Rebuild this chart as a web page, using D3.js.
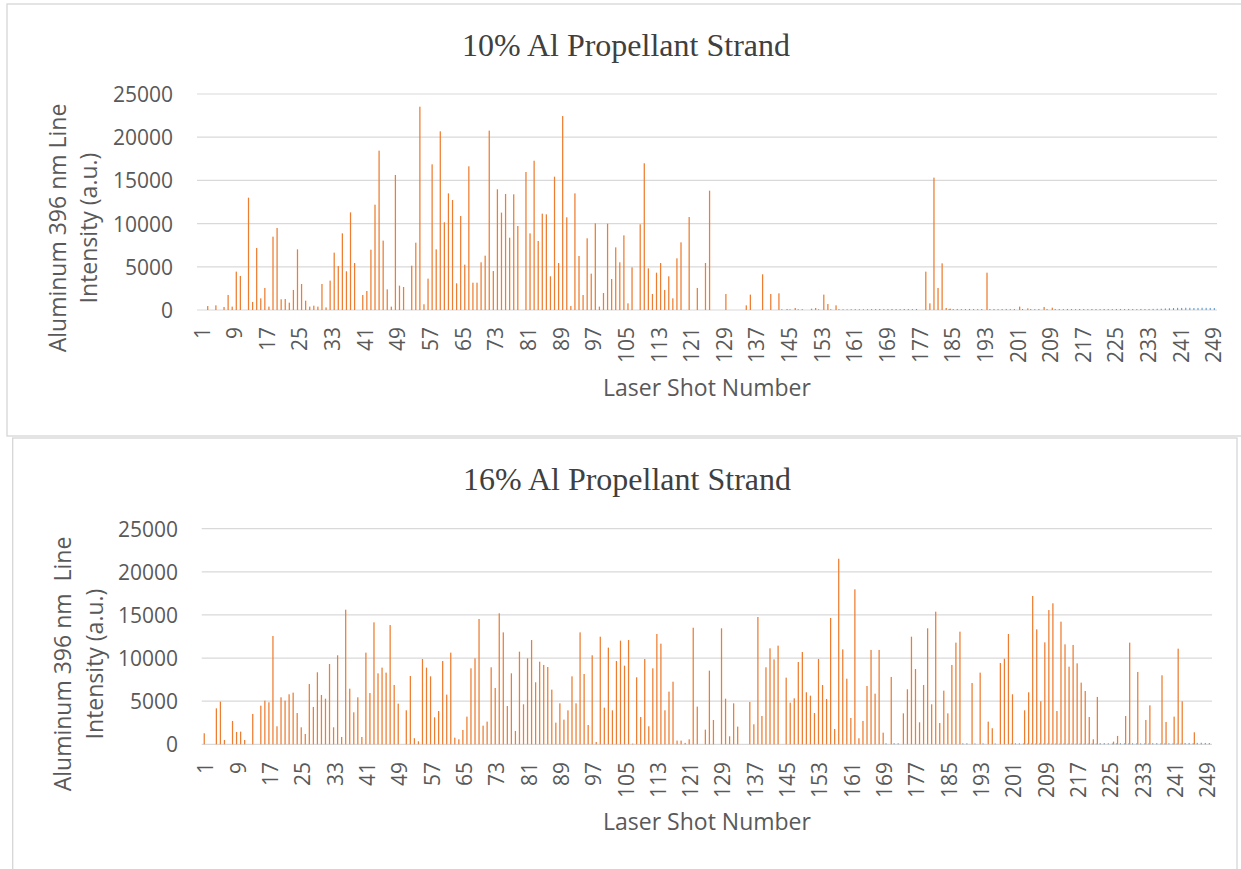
<!DOCTYPE html>
<html>
<head>
<meta charset="utf-8">
<script src="https://d3js.org/d3.v7.min.js"></script>
<style>
  html, body { margin: 0; padding: 0; background: #fff; }
  svg { display: block; }
</style>
</head>
<body>
<script>
// shot numbers 1..250, every 8th one is labelled
var shots = d3.range(1, 251);
var xTickLabels = shots.filter(function (d, i) { return i % 8 === 0; });
var yTicks = [0, 5000, 10000, 15000, 20000, 25000];

var titles = ["10% Al Propellant Strand", "16% Al Propellant Strand"];

// 10% Al strand, orange series (Al 396 nm line)
var al10 = [
  0, 0, 460, 0, 540, 0, 350, 1740, 390, 4440, 3940, 0, 13000, 930, 7180, 1350, 2550, 390, 8490, 9490, 1240, 1270, 850, 2320, 7020,
  3010, 1080, 390, 500, 390, 3010, 300, 3400, 6640, 5090, 8870, 4480, 11300, 5440, 0, 1740, 2200, 6980, 12190, 18440, 8030, 2390, 390, 15630, 2820,
  2660, 0, 5130, 7790, 23530, 660, 3630, 16860, 7020, 20680, 10150, 13500, 12730, 3090, 10880, 5250, 16630, 3160, 3160, 5520, 6290, 20760, 4510, 13970, 11270,
  13430, 8370, 13390, 9720, 0, 15970, 8870, 17280, 7990, 11150, 11070, 3900, 15430, 5440, 22450, 10730, 460, 13500, 6250, 1740, 8300, 4210, 10030, 390, 1970,
  9990, 3590, 7250, 5520, 8640, 770, 4940, 0, 9920, 16980, 4820, 1850, 4320, 5440, 2320, 3900, 1350, 5980, 7830, 0, 10760, 0, 2550, 0, 5440,
  13810, 0, 0, 0, 1850, 0, 0, 0, 0, 540, 1780, 0, 0, 4130, 0, 1850, 0, 1930, 0, 120, 0, 230, 0, 0, 0,
  150, 230, 0, 1780, 690, 0, 540, 0, 0, 0, 0, 0, 0, 0, 0, 0, 0, 0, 0, 0, 0, 0, 0, 0, 0,
  0, 0, 0, 4440, 770, 15320, 2550, 5400, 230, 150, 0, 0, 0, 0, 0, 0, 0, 0, 4320, 0, 0, 0, 0, 0, 0,
  0, 390, 0, 190, 0, 0, 0, 350, 0, 270, 0, 0, 0, 0, 0, 0, 0, 0, 0, 0, 0, 0, 0, 0, 0,
  0, 0, 0, 0, 0, 0, 0, 0, 0, 0, 0, 0, 0, 0, 0, 0, 0, 0, 0, 0, 0, 0, 0, 0, 0
];
// 10% Al strand, blue series (tiny values along the baseline)
var base10 = [
  0, 0, 0, 0, 0, 0, 0, 0, 0, 0, 0, 0, 0, 0, 0, 0, 0, 0, 0, 0, 0, 0, 0, 0, 0,
  0, 0, 0, 0, 0, 0, 0, 0, 0, 0, 0, 0, 0, 0, 0, 0, 0, 0, 0, 0, 0, 0, 0, 0, 0,
  0, 0, 0, 0, 0, 0, 0, 0, 0, 0, 0, 0, 0, 0, 0, 0, 0, 0, 0, 0, 0, 0, 0, 0, 0,
  0, 0, 0, 0, 0, 0, 0, 0, 0, 0, 0, 0, 0, 0, 0, 0, 0, 0, 0, 0, 0, 0, 0, 0, 0,
  0, 0, 0, 0, 0, 0, 0, 0, 0, 0, 0, 0, 0, 0, 0, 0, 0, 0, 0, 0, 0, 0, 0, 0, 0,
  0, 0, 0, 0, 0, 0, 0, 0, 0, 0, 0, 0, 0, 0, 0, 0, 0, 0, 90, 0, 80, 0, 90, 100, 0,
  0, 0, 80, 0, 0, 90, 0, 100, 90, 80, 90, 100, 90, 80, 90, 100, 110, 120, 100, 110, 120, 110, 100, 120, 110,
  100, 120, 0, 0, 0, 0, 0, 0, 0, 120, 110, 120, 100, 110, 120, 110, 100, 120, 0, 110, 120, 100, 110, 120, 100,
  110, 0, 120, 0, 110, 100, 120, 0, 110, 0, 120, 110, 100, 120, 110, 100, 120, 110, 100, 120, 110, 100, 120, 110, 100,
  120, 110, 100, 120, 110, 100, 120, 110, 120, 130, 140, 150, 180, 200, 230, 250, 240, 260, 250, 230, 240, 260, 250, 240, 230
];

// 16% Al strand, orange series
var al16 = [
  1280, 0, 0, 4170, 4950, 500, 0, 2710, 1430, 1470, 500, 0, 3520, 0, 4480, 5060, 4870, 12560, 2090, 5450, 5060, 5800, 5990, 3630, 1970,
  1200, 6990, 4330, 8350, 5720, 5290, 9310, 1970, 10320, 850, 15610, 6450, 3710, 5450, 850, 10630, 5950, 14140, 8230, 8890, 8310, 13830, 6880, 4710, 0,
  3940, 7920, 700, 350, 9890, 8890, 7880, 3130, 3860, 9660, 5760, 10630, 770, 580, 1660, 3210, 8810, 9970, 14530, 2160, 2630, 8930, 6530, 15190, 12980,
  4440, 8230, 1550, 10740, 4640, 9970, 12090, 7190, 9580, 9200, 8960, 6340, 2510, 4750, 2860, 3940, 7880, 4750, 12980, 8150, 2240, 10320, 270, 12480, 4250,
  11210, 3940, 9660, 12020, 9120, 12090, 80, 7770, 3170, 9890, 2090, 8810, 12790, 11670, 3940, 6110, 7260, 430, 430, 160, 580, 13520, 4370, 0, 1700,
  8540, 2820, 0, 13450, 5290, 930, 4750, 2050, 0, 0, 4910, 2320, 14760, 3280, 8930, 11130, 9850, 11440, 0, 7730, 4830, 5330, 9540, 10700, 6030,
  5640, 3630, 9890, 6880, 5260, 14650, 1780, 21520, 11010, 7610, 3050, 17970, 700, 2710, 6760, 10940, 5870, 10940, 1350, 0, 7810, 0, 0, 3590, 6380,
  12480, 8730, 2550, 6880, 13450, 4640, 15380, 2470, 6220, 3590, 9200, 11790, 13060, 0, 0, 7110, 0, 8310, 0, 2630, 1860, 0, 9430, 9930, 12790,
  5800, 0, 0, 3940, 6030, 17200, 13330, 4990, 11820, 15570, 16350, 3860, 14220, 11590, 9000, 11520, 9390, 7150, 6180, 3170, 580, 5490, 0, 0, 0,
  310, 970, 0, 3280, 11790, 0, 8390, 0, 2820, 4520, 0, 0, 8000, 2590, 0, 3210, 11090, 4990, 0, 0, 1390, 0, 0, 0, 0
];
// 16% Al strand, blue series
var base16 = [
  0, 0, 0, 0, 0, 0, 0, 0, 0, 0, 0, 0, 0, 0, 0, 0, 0, 0, 0, 0, 0, 0, 0, 0, 0,
  0, 0, 0, 0, 0, 0, 0, 0, 0, 0, 0, 0, 0, 0, 0, 0, 0, 0, 0, 0, 0, 0, 0, 0, 0,
  0, 0, 0, 0, 0, 0, 0, 0, 0, 0, 0, 0, 0, 0, 0, 0, 0, 0, 0, 0, 0, 0, 0, 0, 0,
  0, 0, 0, 0, 0, 0, 0, 0, 0, 0, 0, 0, 0, 0, 0, 0, 0, 0, 0, 0, 0, 0, 0, 0, 0,
  0, 0, 0, 0, 0, 0, 0, 0, 0, 0, 0, 0, 0, 0, 0, 0, 0, 0, 0, 0, 0, 0, 0, 0, 0,
  0, 0, 0, 0, 0, 0, 0, 0, 0, 0, 0, 0, 0, 0, 0, 0, 0, 0, 0, 0, 0, 0, 0, 0, 0,
  0, 0, 0, 0, 0, 0, 0, 0, 0, 0, 0, 0, 0, 0, 0, 0, 0, 0, 0, 120, 0, 130, 120, 0, 0,
  0, 0, 0, 0, 0, 0, 0, 0, 0, 0, 0, 0, 0, 110, 120, 0, 100, 0, 110, 0, 0, 100, 0, 0, 0,
  90, 120, 110, 90, 80, 90, 80, 90, 80, 90, 80, 90, 80, 90, 80, 90, 80, 90, 80, 90, 100, 90, 130, 140, 120,
  100, 110, 130, 100, 90, 120, 100, 110, 100, 90, 130, 140, 100, 110, 120, 100, 90, 100, 150, 160, 120, 170, 180, 160, 150
];

var W = 1241, H = 869;
var svg = d3.select("body").append("svg")
    .attr("width", W).attr("height", H)
    .attr("viewBox", "0 0 " + W + " " + H);

// chart frames
svg.append("rect")
    .attr("x", 7).attr("y", 4).attr("width", 1245).attr("height", 432)
    .attr("fill", "none").attr("stroke", "#d6d6d6").attr("stroke-width", 1.3);
svg.append("rect")
    .attr("x", 12.7).attr("y", 438).attr("width", 1224.3).attr("height", 440)
    .attr("fill", "#fff").attr("stroke", "#d6d6d6").attr("stroke-width", 1.3);

function drawPanel(p) {
  var g = svg.append("g");

  var x = d3.scaleBand().domain(shots).range([p.x0, p.x1]).padding(0);
  var y = d3.scaleLinear().domain([0, 25000]).range([p.yBase, p.yTop]);
  var bw = x.bandwidth();

  // gridlines
  g.selectAll(".grid").data(yTicks).enter().append("line")
      .attr("x1", p.x0).attr("x2", p.x1)
      .attr("y1", function (d) { return y(d); })
      .attr("y2", function (d) { return y(d); })
      .attr("stroke", "#d9d9d9").attr("stroke-width", 1.2);

  // y tick labels
  g.selectAll(".ylab").data(yTicks).enter().append("text")
      .attr("x", p.yLabX).attr("y", function (d) { return y(d); })
      .attr("text-anchor", "end").attr("dominant-baseline", "central")
      .attr("font-family", "Open Sans").attr("font-size", 21).attr("fill", "#595959")
      .text(function (d) { return d; });

  // blue series (left of each cluster)
  g.selectAll(".b").data(shots).enter().append("rect")
      .filter(function (d, i) { return p.blue[i] > 0; })
      .attr("x", function (d) { return x(d) + bw / 2 - 1.2; })
      .attr("width", 1.1)
      .attr("y", function (d) { return y(p.blue[d - 1]); })
      .attr("height", function (d) { return p.yBase - y(p.blue[d - 1]); })
      .attr("fill", "#5b9bd5");

  // orange series (right of each cluster)
  g.selectAll(".o").data(shots).enter().append("rect")
      .filter(function (d, i) { return p.vals[i] > 0; })
      .attr("x", function (d) { return x(d) + bw / 2 - 0.1; })
      .attr("width", 1.25)
      .attr("y", function (d) { return y(p.vals[d - 1]); })
      .attr("height", function (d) { return p.yBase - y(p.vals[d - 1]); })
      .attr("fill", "#ed7d31");

  // x tick labels, rotated
  g.selectAll(".xlab").data(xTickLabels).enter().append("text")
      .attr("transform", function (d) {
        return "translate(" + (x(d) + bw / 2 + p.labShift) + "," + p.xLabY + ") rotate(-90)";
      })
      .attr("text-anchor", "end").attr("dominant-baseline", "central")
      .attr("font-family", "Open Sans").attr("font-size", 21).attr("fill", "#595959")
      .text(function (d) { return d; });

  // chart title
  g.append("text")
      .attr("x", p.titleX).attr("y", p.titleY)
      .attr("text-anchor", "middle")
      .attr("font-family", "Liberation Serif").attr("font-size", 32).attr("fill", "#404040")
      .text(p.title);

  // x axis title
  g.append("text")
      .attr("x", 707).attr("y", p.xTitleY)
      .attr("text-anchor", "middle")
      .attr("font-family", "Open Sans").attr("font-size", 23).attr("fill", "#595959")
      .text("Laser Shot Number");

  // y axis title, two lines
  p.yTitle.forEach(function (line, k) {
    g.append("text")
        .attr("transform", "translate(" + p.yTitleX[k] + "," + p.yTitleMid + ") rotate(-90)")
        .attr("text-anchor", "middle")
        .attr("font-family", "Open Sans").attr("font-size", 23).attr("fill", "#595959")
        .style("white-space", "pre")
        .text(line);
  });
}

drawPanel({
  title: titles[0], vals: al10, blue: base10,
  x0: 197, x1: 1217, yBase: 310, yTop: 94,
  yLabX: 173, xLabY: 327, labShift: 2.5,
  titleX: 626, titleY: 56, xTitleY: 396,
  yTitle: ["Aluminum 396 nm Line", "Intensity (a.u.)"], yTitleX: [65.5, 97], yTitleMid: 228
});

drawPanel({
  title: titles[1], vals: al16, blue: base16,
  x0: 201.7, x1: 1212, yBase: 744.3, yTop: 528.7,
  yLabX: 178, xLabY: 762, labShift: 1.5,
  titleX: 627, titleY: 490, xTitleY: 830,
  yTitle: ["Aluminum 396 nm  Line", "Intensity (a.u.)"], yTitleX: [70.5, 102.5], yTitleMid: 664
});
</script>
</body>
</html>
